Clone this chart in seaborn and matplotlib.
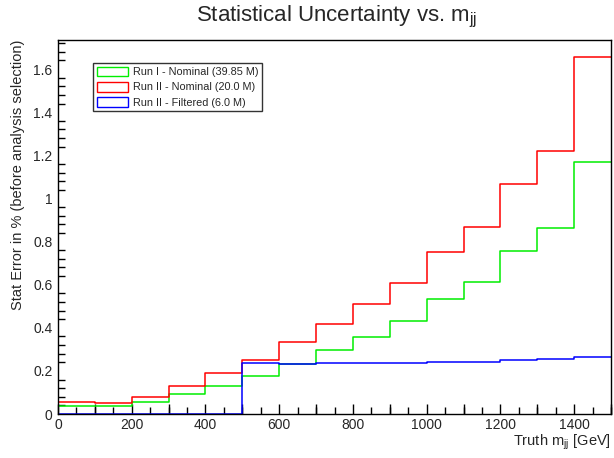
import numpy as np
import pandas as pd
import matplotlib
matplotlib.use("Agg")
import matplotlib.pyplot as plt
from matplotlib.patches import Patch
from matplotlib.ticker import MultipleLocator, FuncFormatter, NullFormatter
import seaborn as sns

bin_edges = [0, 100, 200, 300, 400, 500, 600, 700, 800, 900, 1000, 1100, 1200, 1300, 1400, 1500]
run1_nominal = [0.039, 0.036, 0.057, 0.093, 0.131, 0.178, 0.232, 0.295, 0.359, 0.433, 0.532, 0.614, 0.755, 0.863, 1.169]
run2_nominal = [0.056, 0.052, 0.081, 0.131, 0.188, 0.251, 0.332, 0.419, 0.509, 0.609, 0.751, 0.867, 1.065, 1.221, 1.654]
run2_filtered = [0.0, 0.0, 0.0, 0.0, 0.0, 0.235, 0.232, 0.238, 0.235, 0.238, 0.240, 0.240, 0.250, 0.257, 0.266]
series_names = ["Run I - Nominal (39.85 M)", "Run II - Nominal (20.0 M)", "Run II - Filtered (6.0 M)"]
series_colors = ["#00ee00", "#ff0000", "#0000ff"]

centers = [(a + b) / 2 for a, b in zip(bin_edges[:-1], bin_edges[1:])]
rows = []
for name, vals in zip(series_names, [run1_nominal, run2_nominal, run2_filtered]):
    for c, v in zip(centers, vals):
        rows.append({"mjj": c, "err": v, "series": name})
df = pd.DataFrame(rows)

sns.set_theme(style="white")
plt.rcParams["font.family"] = ["Liberation Sans", "DejaVu Sans"]

fig = plt.figure(figsize=(6.14, 4.58), dpi=100)
ax = fig.add_axes([58 / 614, 1 - 414 / 458, (611 - 58) / 614, (414 - 40) / 458])

for name, col in zip(series_names, series_colors):
    sub = df[df["series"] == name]
    sns.histplot(data=sub, x="mjj", weights="err", bins=bin_edges, element="step",
                 fill=False, color=col, linewidth=1.1, ax=ax, legend=False)

ax.set_xlim(0, 1500)
ax.set_ylim(0, 1.735)
ax.xaxis.set_major_locator(MultipleLocator(200))
ax.xaxis.set_minor_locator(MultipleLocator(50))
ax.yaxis.set_major_locator(MultipleLocator(0.2))
ax.yaxis.set_minor_locator(MultipleLocator(0.04))
ax.yaxis.set_major_formatter(FuncFormatter(lambda v, p: ("%.1f" % v).rstrip("0").rstrip(".") if v != 0 else "0"))
ax.tick_params(axis="both", which="major", direction="in", length=11, width=1, color="black",
               labelsize=10, top=False, right=False)
ax.tick_params(axis="both", which="minor", direction="in", length=5, width=1, color="black",
               top=False, right=False, bottom=True, left=True)
ax.tick_params(axis="x", which="major", pad=3)
ax.tick_params(axis="y", which="major", pad=4)
for s in ax.spines.values():
    s.set_color("black")
    s.set_linewidth(1)
    s.set_visible(True)

# medium-length ticks every 100 GeV (ROOT-style tertiary divisions)
sec = ax.secondary_xaxis("bottom")
sec.xaxis.set_major_locator(MultipleLocator(100))
sec.xaxis.set_major_formatter(NullFormatter())
sec.tick_params(axis="x", which="major", direction="in", length=7.5, width=1, color="black")
sec.tick_params(axis="x", which="minor", length=0)
sec.spines["bottom"].set_visible(False)

ax.set_xlabel("Truth m$_{\\mathregular{jj}}$ [GeV]", fontsize=10.5, loc="right", labelpad=0)
ax.set_ylabel("Stat Error in % (before analysis selection)", fontsize=10.5, loc="top", labelpad=6)
fig.text(337 / 614, 1 - 17 / 458, "Statistical Uncertainty vs. m$_{\\mathregular{jj}}$",
         ha="center", va="center", fontsize=16)

handles = [Patch(facecolor="white", edgecolor=c, linewidth=1) for c in series_colors]
leg = ax.legend(handles, series_names, loc="upper left",
                bbox_to_anchor=((93 - 58) / 553, 1 - (63 - 40) / 374),
                bbox_transform=ax.transAxes, fontsize=7.8, frameon=True, fancybox=False,
                edgecolor="black", handlelength=2.9, handleheight=1.0, borderpad=0.35,
                labelspacing=0.42, handletextpad=0.45, borderaxespad=0)
leg.get_frame().set_linewidth(1)

fig.savefig("out.png", dpi=100, facecolor="white")
